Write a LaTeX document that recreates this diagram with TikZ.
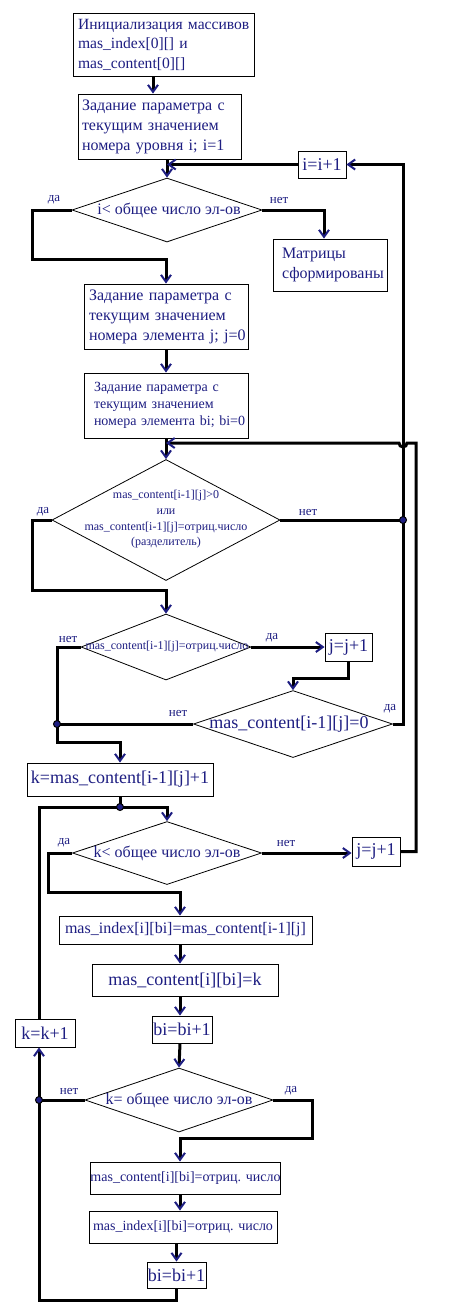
\documentclass[tikz,border=0pt]{standalone}
\usepackage{fontspec}
\setmainfont{Liberation Serif}
\usetikzlibrary{arrows.meta,shapes.geometric,calc}
\definecolor{navy}{RGB}{30,30,130}
\begin{document}
\begin{tikzpicture}[x=1pt,y=-1pt,
  conn/.style={line width=3pt},
  arr/.style={conn,-{Straight Barb[length=7pt,width=10pt,line width=2pt,color=navy]}},
  box/.style={draw,line width=0.9pt,inner sep=0pt,text=navy,align=center},
  lt/.style={align=left},
  dia/.style={draw,diamond,line width=0.8pt,inner sep=0pt},
  txt/.style={text=navy,inner sep=0pt,align=center},
  lbl/.style={text=navy,inner sep=0pt,font=\fontsize{13}{13}\selectfont},
  dotn/.style={circle,fill=navy,draw=black,line width=1pt,minimum size=7pt,inner sep=0pt},
  f12/.style={font=\fontsize{12}{15.7}\selectfont},
  f14/.style={font=\fontsize{14}{17}\selectfont},
  f155/.style={font=\fontsize{15.6}{19.5}\selectfont},
  f16/.style={font=\fontsize{16}{20}\selectfont},
  f18/.style={font=\fontsize{18}{20}\selectfont}]
\fill[white] (0,0) rectangle (450,1310);
\useasboundingbox (0,0) rectangle (450,1310);

% nodes
\node[box,lt,f155,text width=171pt,inner xsep=5pt,minimum height=63pt] (b1) at (163.5,44.5)
  {\mbox{Инициализация массивов}\\\mbox{mas\_index[0][] и}\\\mbox{mas\_content[0][]}};
\node[box,lt,f16,text width=155pt,inner xsep=4pt,minimum height=65pt] (b2) at (159.5,126.5)
  {\mbox{Задание параметра с}\\\mbox{текущим значением}\\\mbox{номера уровня i; i=1}};
\node[box,f18,minimum width=48pt,minimum height=27pt] (ii) at (322,164.5) {i=i+1};
\node[dia,minimum width=190pt,minimum height=64pt] (d1) at (167,210) {};
\node[txt,f16] (d1t) at (169,210) {i< общее число эл-ов};
\node[box,lt,f16,text width=96pt,inner xsep=9pt,minimum height=52pt] (mat) at (330,265)
  {\mbox{Матрицы}\\\mbox{сформированы}};
\node[box,lt,f16,text width=154pt,inner xsep=5pt,minimum height=65pt] (b3) at (166,316.5)
  {\mbox{Задание параметра с}\\\mbox{текущим значением}\\\mbox{номера элемента j; j=0}};
\node[box,lt,f14,text width=144pt,inner xsep=10pt,minimum height=65pt] (b4) at (166,405.5)
  {\mbox{Задание параметра с}\\\mbox{текущим значением}\\\mbox{номера элемента bi; bi=0}};
\node[dia,minimum width=228pt,minimum height=121pt] (d2) at (166,520) {};
\node[txt,f12] (d2t) at (166,519.5)
  {mas\_content[i-1][j]>0\\или\\mas\_content[i-1][j]=отриц.число\\(разделитель)};
\node[dia,minimum width=170pt,minimum height=66pt] (d3) at (166,647) {};
\node[txt,f12] (d3t) at (167,647) {mas\_content[i-1][j]=отриц.число};
\node[box,f18,minimum width=47pt,minimum height=28pt] (jj1) at (348.5,647) {j=j+1};
\node[dia,minimum width=199pt,minimum height=67pt] (d4) at (293,724) {};
\node[txt,f18] (d4t) at (289,724) {mas\_content[i-1][j]=0};
\node[box,f18,minimum width=186pt,minimum height=33pt] (kb) at (120,779.5) {k=mas\_content[i-1][j]+1};
\node[dia,minimum width=189pt,minimum height=63pt] (d5) at (167,853) {};
\node[txt,f16] (d5t) at (d5.center) {k< общее число эл-ов};
\node[box,f18,minimum width=48pt,minimum height=29pt] (jj2) at (376,851.5) {j=j+1};
\node[box,f16,minimum width=253pt,minimum height=28pt] (mi) at (185.5,930) {mas\_index[i][bi]=mas\_content[i-1][j]};
\node[box,f18,minimum width=186pt,minimum height=32pt] (mc) at (185,980) {mas\_content[i][bi]=k};
\node[box,f18,minimum width=60pt,minimum height=27pt] (bi1) at (182,1029.5) {bi=bi+1};
\node[box,f18,minimum width=60pt,minimum height=28pt] (kk) at (45,1033) {k=k+1};
\node[dia,minimum width=188pt,minimum height=64pt] (d6) at (179,1100) {};
\node[txt,f16] (d6t) at (d6.center) {k= общее число эл-ов};
\node[box,f14,minimum width=187pt,minimum height=32pt] (mcn) at (185.5,1178) {mas\_content[i][bi]=отриц. число};
\node[box,f14,minimum width=188pt,minimum height=32pt] (min) at (183,1227) {mas\_index[i][bi]=отриц. число};
\node[box,f18,minimum width=59pt,minimum height=26pt] (bi2) at (176.5,1275) {bi=bi+1};

% labels
\node[lbl] (l1a) at (54,200) {да};
\node[lbl] (l1b) at (279,200) {нет};
\node[lbl] (l2a) at (43,512) {да};
\node[lbl] (l2b) at (308,512) {нет};
\node[lbl] (l3a) at (68,639) {нет};
\node[lbl] (l3b) at (272,638) {да};
\node[lbl] (l4a) at (178,713) {нет};
\node[lbl] (l4b) at (390,709) {да};
\node[lbl] (l5a) at (64,843) {да};
\node[lbl] (l5b) at (286,843) {нет};
\node[lbl] (l6a) at (69,1091) {нет};
\node[lbl] (l6b) at (291,1091) {да};

% helper coordinates
\coordinate (R) at (403,164.5);
\coordinate (L1) at (32,259);
\coordinate (L2) at (32,590);
\coordinate (M1) at (293,678);
\coordinate (M2) at (57,742);
\coordinate (M3) at (120,807);
\coordinate (R2) at (416,443);
\coordinate (M5) at (48,892);
\coordinate (M6) at (312,1138);
\coordinate (M7) at (39,1300);
\coordinate (cx) at (180,0);
\coordinate (p1) at (d2.east -| R);
\coordinate (p2) at (d4.west -| M2);
\coordinate (p4) at (d6.west -| M7);

% connectors
\draw[arr] ([xshift=-10.5pt]b1.south) -- ([xshift=-10.5pt]b1.south |- b2.north);
\draw[arr] (b2.south -| d1.north) -- (d1.north);
\draw[arr] (d4.east) -- (d4.east -| R) -- (R) -- (ii.east);
\draw[arr] (ii.west) -- (ii.west -| d1.north);
\draw[arr] (d1.west) -| (L1) -| (b3.north);
\draw[arr] (d1.east) -| ([xshift=-6pt]mat.north);
\draw[arr] (b3.south) -- (b4.north);
\draw[arr] (b4.south) -- (d2.north);
\draw[arr] (jj2.east) -| (R2) -- ($(R2 -| R)+(4,0)$) arc[start angle=0,end angle=-180,radius=4pt] -- (R2 -| d2.north);
\draw[conn] (d2.east) -- (p1);
\draw[arr] (d2.west) -| (L2) -| (d3.north);
\draw[arr] (d3.east) -- (jj1.west);
\draw[arr] (jj1.south) |- (M1) -- (d4.north);
\draw[arr] (d3.west) -| (M2) -| (kb.north);
\draw[conn] (d4.west) -- (p2);
\draw[arr] (kb.south) -- (M3) -| (d5.north);
\draw[arr] (d5.east) -- (d5.east -| jj2.west);
\draw[arr] (d5.west) -| (M5) -| (mi.north -| cx);
\draw[arr] (mi.south -| cx) -- (mc.north -| cx);
\draw[arr] (mc.south -| cx) -- (bi1.north -| cx);
\draw[arr] (bi1.south -| cx) -- (d6.north);
\draw[conn] (d6.west) -- (p4);
\draw[arr] (p4) -- (kk.south -| p4);
\draw[conn] (kk.north -| p4) -- (p4 |- M3) -- (M3);
\draw[arr] (d6.east) -| (M6) -| (mcn.north -| cx);
\draw[arr] (mcn.south -| cx) -- (min.north -| cx);
\draw[arr] (min.south -| bi2.north) -- (bi2.north);
\draw[conn] (bi2.south) |- (M7) -- (p4);

% junction dots
\node[dotn] (j1) at (p1) {};
\node[dotn] (j2) at (p2) {};
\node[dotn] (j3) at (M3) {};
\node[dotn] (j4) at (p4) {};
\end{tikzpicture}
\end{document}
